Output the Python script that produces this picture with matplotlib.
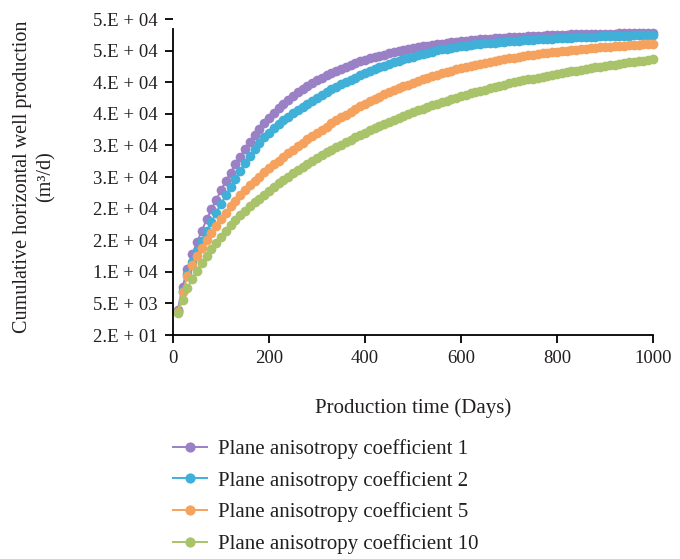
import matplotlib
matplotlib.use("Agg")
import matplotlib.pyplot as plt
import numpy as np

# production time, one point every 10 days
days = np.arange(10, 1001, 10)

# cumulative production (m3/d)
coef_1 = [4000, 7600, 10500, 12800, 14700, 16500, 18300, 19900, 21400, 22900,
          24400, 25700, 27000, 28200, 29400, 30500, 31600, 32600, 33500, 34350,
          35150, 35900, 36600, 37250, 37850, 38400, 38900, 39400, 39850, 40300,
          40700, 41100, 41450, 41800, 42150, 42450, 42750, 43050, 43300, 43550,
          43800, 44000, 44200, 44400, 44600, 44780, 44950, 45100, 45250, 45400,
          45540, 45670, 45800, 45920, 46030, 46130, 46230, 46320, 46410, 46490,
          46570, 46640, 46710, 46780, 46840, 46900, 46960, 47010, 47060, 47110,
          47160, 47200, 47240, 47280, 47320, 47360, 47400, 47430, 47460, 47490,
          47520, 47550, 47570, 47590, 47610, 47630, 47650, 47670, 47690, 47700,
          47710, 47720, 47730, 47740, 47750, 47760, 47770, 47780, 47790, 47800]
coef_2 = [3800, 7000, 9600, 11600, 13300, 14900, 16400, 17900, 19350, 20750,
          22100, 23450, 24750, 26000, 27200, 28350, 29450, 30450, 31300, 32050,
          32750, 33400, 34000, 34550, 35100, 35600, 36100, 36600, 37100, 37600,
          38050, 38500, 38900, 39300, 39700, 40050, 40400, 40750, 41100, 41450,
          41750, 42050, 42350, 42650, 42900, 43150, 43400, 43650, 43850, 44050,
          44250, 44450, 44650, 44850, 45050, 45200, 45350, 45480, 45600, 45720,
          45820, 45920, 46000, 46080, 46150, 46220, 46290, 46360, 46420, 46480,
          46540, 46600, 46650, 46700, 46750, 46800, 46850, 46890, 46930, 46970,
          47010, 47050, 47090, 47120, 47150, 47180, 47210, 47240, 47270, 47300,
          47320, 47340, 47360, 47380, 47400, 47420, 47440, 47460, 47480, 47500]
coef_5 = [3700, 6800, 9300, 11100, 12500, 13800, 15000, 16200, 17300, 18400,
          19400, 20400, 21300, 22200, 23000, 23750, 24450, 25100, 25750, 26400,
          27000, 27600, 28200, 28800, 29350, 29900, 30450, 31000, 31500, 32000,
          32500, 33000, 33500, 34000, 34450, 34900, 35350, 35800, 36200, 36600,
          37000, 37400, 37750, 38100, 38450, 38750, 39050, 39350, 39650, 39950,
          40200, 40450, 40700, 40950, 41200, 41450, 41650, 41850, 42050, 42250,
          42450, 42600, 42750, 42900, 43050, 43200, 43350, 43500, 43650, 43800,
          43920, 44040, 44160, 44270, 44380, 44480, 44580, 44680, 44770, 44860,
          44950, 45030, 45110, 45190, 45260, 45330, 45400, 45470, 45530, 45590,
          45650, 45710, 45770, 45820, 45870, 45920, 45970, 46010, 46050, 46090]
coef_10 = [3500, 5600, 7400, 8900, 10200, 11400, 12600, 13650, 14650, 15600,
           16500, 17350, 18150, 18950, 19700, 20400, 21000, 21600, 22250, 22850,
           23450, 24000, 24550, 25100, 25600, 26100, 26600, 27100, 27550, 28000,
           28450, 28900, 29300, 29700, 30100, 30500, 30900, 31300, 31650, 32000,
           32400, 32750, 33100, 33450, 33800, 34100, 34400, 34700, 35000, 35300,
           35600, 35850, 36100, 36350, 36600, 36850, 37100, 37350, 37600, 37850,
           38050, 38250, 38450, 38650, 38850, 39050, 39250, 39450, 39650, 39850,
           40000, 40150, 40300, 40450, 40600, 40750, 40900, 41050, 41200, 41350,
           41480, 41610, 41740, 41870, 42000, 42120, 42240, 42360, 42480, 42600,
           42710, 42820, 42930, 43040, 43150, 43250, 43350, 43450, 43550, 43650]

labels = ["Plane anisotropy coefficient 1", "Plane anisotropy coefficient 2",
          "Plane anisotropy coefficient 5", "Plane anisotropy coefficient 10"]
colors = ["#9a80c4", "#40b0d8", "#f6a25f", "#a8c36a"]

y_ticks = [20, 5020, 10020, 15020, 20020, 25020, 30020, 35020, 40020, 45020, 50020]
y_tick_labels = ["2.E + 01", "5.E + 03", "1.E + 04", "2.E + 04", "2.E + 04", "3.E + 04",
                 "3.E + 04", "4.E + 04", "4.E + 04", "5.E + 04", "5.E + 04"]
x_ticks = [0, 200, 400, 600, 800, 1000]

plt.rcParams['font.family'] = ['Liberation Serif', 'DejaVu Serif']
text_col = "#231f20"

fig = plt.figure(figsize=(6.8, 5.59), dpi=100)
ax = fig.add_axes([0.2544, 0.4007, 0.7059, 0.5653])

for vals, lab, col in zip([coef_1, coef_2, coef_5, coef_10], labels, colors):
    ax.plot(days, vals, '-o', color=col, markersize=7, linewidth=1.4,
            markeredgewidth=0, label=lab, clip_on=False)

ax.set_xlim(0, 1000)
ax.set_ylim(20, 50020)
ax.set_xticks(x_ticks)
ax.set_yticks(y_ticks)
ax.set_yticklabels(y_tick_labels)

for s in ['top', 'right']:
    ax.spines[s].set_visible(False)
for s in ['left', 'bottom']:
    ax.spines[s].set_linewidth(1.3)
    ax.spines[s].set_color('black')
ax.spines['left'].set_bounds(20, 48440)

ax.tick_params(axis='both', direction='out', length=6, width=1.3, colors='black')
ax.tick_params(axis='y', labelsize=13.5, labelcolor=text_col, pad=5)
ax.tick_params(axis='x', labelsize=13.5, labelcolor=text_col, pad=5)

ax.set_xlabel("Production time (Days)", fontsize=15, color=text_col)
ax.xaxis.set_label_coords(0.5, -0.2)
ax.set_ylabel("Cumulative horizontal well production\n(m³/d)", fontsize=14.5,
              color=text_col, linespacing=1.3)
ax.yaxis.set_label_coords(-0.245, 0.5)

leg = ax.legend(loc='upper left', bbox_to_anchor=(173 / 680, 1 - 439 / 559),
                bbox_transform=fig.transFigure, frameon=False, fontsize=15,
                handlelength=1.65, handletextpad=0.5, labelspacing=0.57,
                borderpad=0, borderaxespad=0, markerscale=1.05)
for t in leg.get_texts():
    t.set_color(text_col)

fig.savefig("out.png", dpi=100)
